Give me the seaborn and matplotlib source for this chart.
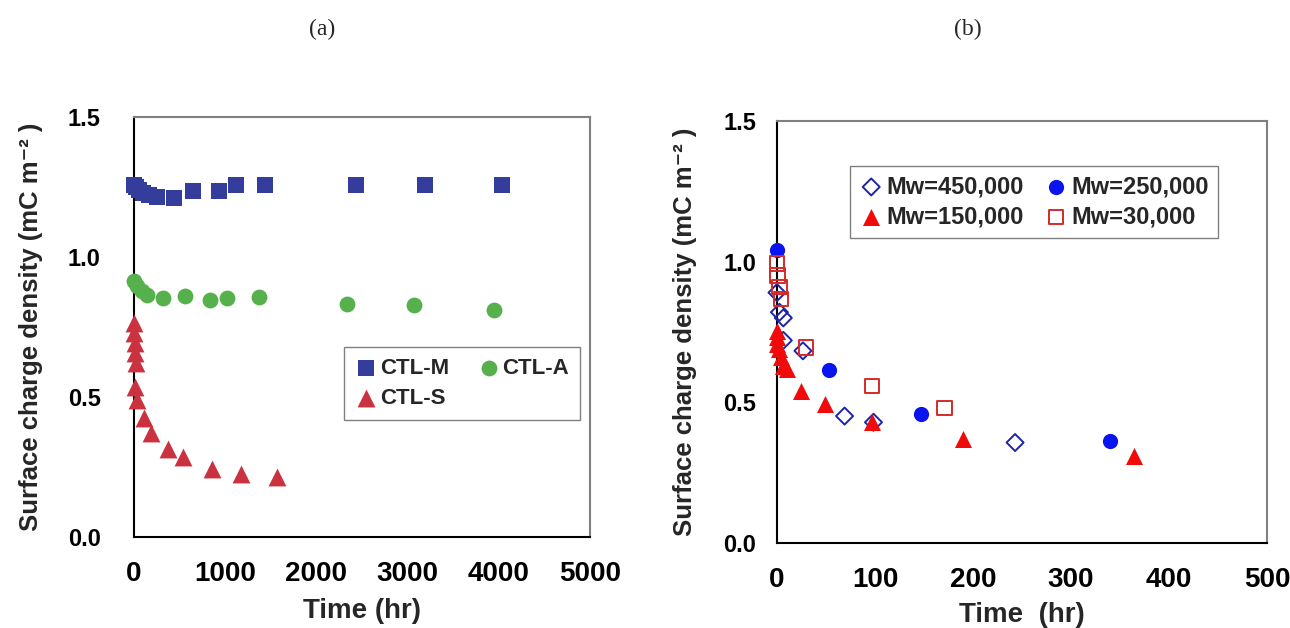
import matplotlib
matplotlib.use("Agg")
import matplotlib.pyplot as plt
import seaborn as sns

# (a) CTL samples, time in hr, surface charge density in mC m-2
ctlm_time = [0, 20, 50, 100, 166, 255, 434, 645, 936, 1119, 1441, 2435, 3187, 4037]
ctlm_q = [1.257, 1.25, 1.238, 1.228, 1.22, 1.215, 1.212, 1.236, 1.236, 1.256, 1.256, 1.256, 1.256, 1.256]
ctla_time = [0, 30, 84, 139, 322, 555, 837, 1020, 1365, 2332, 3075, 3943]
ctla_q = [0.915, 0.895, 0.878, 0.864, 0.852, 0.862, 0.848, 0.854, 0.856, 0.832, 0.828, 0.810]
ctls_time = [0, 3, 6, 12, 24, 11, 30, 107, 188, 367, 537, 859, 1173, 1567]
ctls_q = [0.763, 0.727, 0.692, 0.656, 0.62, 0.537, 0.489, 0.425, 0.37, 0.316, 0.285, 0.243, 0.225, 0.213]

# (b) molecular weight series
mw450_time = [0, 2.5, 6.5, 6.5, 26.5, 69, 98.5, 243]
mw450_q = [0.89, 0.82, 0.80, 0.72, 0.683, 0.451, 0.429, 0.357]
mw250_time = [0, 53, 147, 340]
mw250_q = [1.04, 0.614, 0.46, 0.363]
mw150_time = [0, 0, 0, 2.5, 4.5, 6.5, 10, 25, 49, 97, 190, 364]
mw150_q = [0.755, 0.731, 0.708, 0.69, 0.66, 0.63, 0.618, 0.54, 0.493, 0.43, 0.369, 0.308]
mw30_time = [0, 0.5, 2.5, 4.5, 30, 97, 171]
mw30_q = [0.993, 0.951, 0.91, 0.868, 0.695, 0.559, 0.480]

sns.set_style("white")
plt.rcParams['font.family'] = ['Liberation Sans', 'DejaVu Sans']

fig = plt.figure(figsize=(12.9, 6.28), dpi=100)
ax1 = fig.add_axes([0.1039, 0.1449, 0.3535, 0.6688])
ax2 = fig.add_axes([0.6023, 0.1354, 0.3798, 0.6720])

sns.scatterplot(x=ctlm_time, y=ctlm_q, ax=ax1, marker='s', color='#343d9b', s=120,
                linewidth=0, label='CTL-M', clip_on=False, zorder=3)
sns.scatterplot(x=ctla_time, y=ctla_q, ax=ax1, marker='o', color='#56b04c', s=130,
                linewidth=0, label='CTL-A', clip_on=False, zorder=3)
sns.scatterplot(x=ctls_time, y=ctls_q, ax=ax1, marker='^', color='#c9323e', s=165,
                linewidth=0, label='CTL-S', clip_on=False, zorder=3)

sns.scatterplot(x=mw450_time, y=mw450_q, ax=ax2, marker='D', color='#1f23a6', facecolor='none',
                edgecolor='#1f23a6', s=75, linewidth=1.4, label='Mw=450,000', clip_on=False, zorder=3)
sns.scatterplot(x=mw250_time, y=mw250_q, ax=ax2, marker='o', color='#0a14f0', s=120,
                linewidth=0, label='Mw=250,000', clip_on=False, zorder=3)
sns.scatterplot(x=mw150_time, y=mw150_q, ax=ax2, marker='^', color='#f00a0a', s=150,
                linewidth=0, label='Mw=150,000', clip_on=False, zorder=3)
sns.scatterplot(x=mw30_time, y=mw30_q, ax=ax2, marker='s', color='#d42a2a', facecolor='none',
                edgecolor='#d42a2a', s=105, linewidth=1.4, label='Mw=30,000', clip_on=False, zorder=3)

for ax, xmax, xstep, ypad in [(ax1, 5000, 1000, 24), (ax2, 500, 100, 15)]:
    ax.set_xlim(0, xmax)
    ax.set_ylim(0, 1.5)
    ax.set_xticks(range(0, xmax + 1, xstep))
    ax.set_yticks([0.0, 0.5, 1.0, 1.5])
    ax.set_yticklabels(['0.0', '0.5', '1.0', '1.5'])
    ax.tick_params(direction='in', length=8, width=1, colors='black', top=False, right=False)
    ax.tick_params(axis='x', pad=17, labelsize=20)
    ax.tick_params(axis='y', pad=ypad, labelsize=17)
    for lab in ax.get_xticklabels() + ax.get_yticklabels():
        lab.set_fontweight('bold')
    ax.spines['left'].set_color('black')
    ax.spines['bottom'].set_color('black')
    ax.spines['top'].set_color('#808080')
    ax.spines['right'].set_color('#808080')
    for sp in ax.spines.values():
        sp.set_linewidth(1.5)
    ax.set_ylabel('Surface charge density (mC m\u207b\u00b2 )', fontsize=18.5, fontweight='bold')

ax1.set_xlabel('Time (hr)', fontsize=20, fontweight='bold')
ax2.set_xlabel('Time  (hr)', fontsize=20, fontweight='bold')
ax1.yaxis.set_label_coords(-0.2, 0.5)
ax2.yaxis.set_label_coords(-0.163, 0.5)
ax1.xaxis.set_label_coords(0.5, -0.145)
ax2.xaxis.set_label_coords(0.5, -0.14)

h, l = ax1.get_legend_handles_labels()
ax1.legend([h[0], h[2], h[1]], [l[0], l[2], l[1]], ncol=2, loc='upper left',
           bbox_to_anchor=(0.461, 0.453), borderaxespad=0, fancybox=False,
           edgecolor='#808080', framealpha=1,
           prop={'size': 16, 'weight': 'bold'}, handletextpad=0.1, columnspacing=1.3,
           handlelength=1.0, borderpad=0.5, labelspacing=0.4)
h, l = ax2.get_legend_handles_labels()
ax2.legend([h[0], h[2], h[1], h[3]], [l[0], l[2], l[1], l[3]], ncol=2, loc='upper left',
           bbox_to_anchor=(0.149, 0.894), borderaxespad=0, fancybox=False,
           edgecolor='#808080', framealpha=1,
           prop={'size': 17, 'weight': 'bold'}, handletextpad=0.15, columnspacing=0.85,
           handlelength=1.0, borderpad=0.4, labelspacing=0.3)

fig.text(0.25, 0.953, '(a)', ha='center', va='center', fontsize=17, family='Liberation Serif')
fig.text(0.75, 0.953, '(b)', ha='center', va='center', fontsize=17, family='Liberation Serif')

fig.savefig('out.png', dpi=100)
